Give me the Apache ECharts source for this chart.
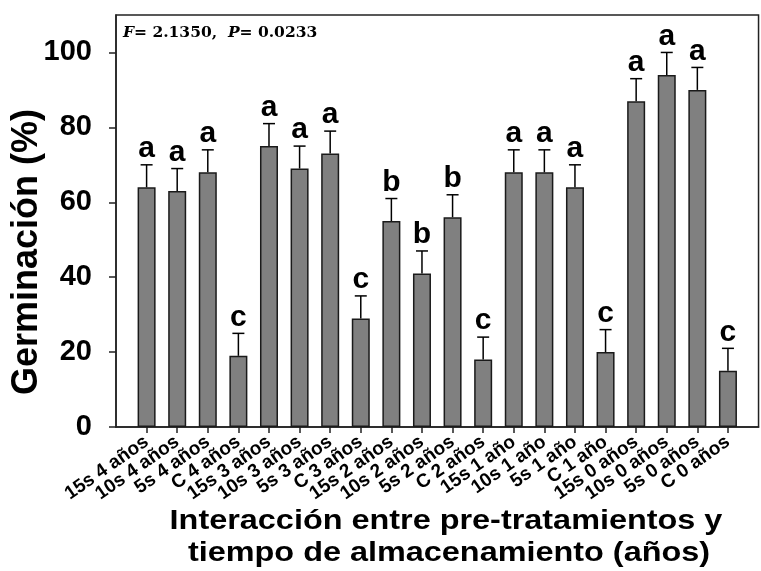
<!DOCTYPE html>
<html>
<head>
<meta charset="utf-8">
<script src="https://cdn.jsdelivr.net/npm/echarts@6/dist/echarts.min.js"></script>
<style>
  html, body { margin: 0; padding: 0; background: #fff; }
  #chart { width: 761px; height: 571px; }
</style>
</head>
<body>
<div id="chart"></div>
<script>
// datos
var categorias = ['15s 4 años', '10s 4 años', '5s 4 años', 'C 4 años',
    '15s 3 años', '10s 3 años', '5s 3 años', 'C 3 años',
    '15s 2 años', '10s 2 años', '5s 2 años', 'C 2 años',
    '15s 1 año', '10s 1 año', '5s 1 año', 'C 1 año',
    '15s 0 años', '10s 0 años', '5s 0 años', 'C 0 años'];
var germinacion = [64, 63, 68, 19, 75, 69, 73, 29, 55, 41, 56, 18, 68, 68, 64, 20, 87, 94, 90, 15];
var errores = [6, 6, 6, 6, 6, 6, 6, 6, 6, 6, 6, 6, 6, 6, 6, 6, 6, 6, 6, 6];
var letras = ['a', 'a', 'a', 'c', 'a', 'a', 'a', 'c', 'b', 'b', 'b', 'c', 'a', 'a', 'a', 'c', 'a', 'a', 'a', 'c'];
var yTicks = [0, 20, 40, 60, 80, 100];

var chart = echarts.init(document.getElementById('chart'));

// eje con un hueco vacio a cada lado
var ejeX = [''].concat(categorias).concat(['']);
var barras = ['-'].concat(germinacion).concat(['-']);
var barrasError = [];
for (var i = 0; i < germinacion.length; i++) {
    barrasError.push([i + 1, germinacion[i], errores[i]]);
}

var colorEje = '#222';

var option = {
    animation: false,
    grid: {
        left: 116,
        top: 15,
        width: 655,
        height: 412,
        show: true,
        borderColor: colorEje,
        borderWidth: 1.5
    },
    xAxis: {
        type: 'category',
        data: ejeX,
        boundaryGap: false,
        axisLine: { lineStyle: { color: colorEje, width: 1.5 } },
        axisTick: {
            length: 6,
            lineStyle: { color: colorEje, width: 1.5 },
            interval: function (idx) { return idx > 0 && idx <= categorias.length; }
        },
        axisLabel: {
            interval: 0,
            rotate: 35,
            margin: 13,
            color: '#000',
            fontFamily: 'Liberation Sans',
            fontWeight: 'bold',
            fontSize: 19
        },
        splitLine: { show: false }
    },
    yAxis: {
        type: 'value',
        min: 0,
        max: 110,
        axisLine: { show: true, lineStyle: { color: colorEje, width: 1.5 } },
        axisTick: {
            show: true,
            length: 7,
            customValues: yTicks,
            lineStyle: { color: colorEje, width: 1.5 }
        },
        axisLabel: {
            customValues: yTicks,
            margin: 24,
            color: '#000',
            fontFamily: 'Liberation Sans',
            fontWeight: 'bold',
            fontSize: 29
        },
        splitLine: { show: false }
    },
    series: [{
        type: 'bar',
        data: barras,
        barWidth: 18,
        itemStyle: {
            color: '#808080',
            borderColor: '#1a1a1a',
            borderWidth: 1.5
        }
    },
    {
        type: 'custom',
        data: barrasError,
        z: 5,
        renderItem: function (params, api) {
            var x = api.value(0);
            var m = api.value(1);
            var e = api.value(2);
            var base = api.coord([x, m]);
            var top = api.coord([x, m + e]);
            var hw = 6;
            var estilo = { stroke: '#000', lineWidth: 1.5 };
            return {
                type: 'group',
                children: [
                    { type: 'line', shape: { x1: top[0], y1: base[1], x2: top[0], y2: top[1] }, style: estilo },
                    { type: 'line', shape: { x1: top[0] - hw, y1: top[1], x2: top[0] + hw, y2: top[1] }, style: estilo },
                    {
                        type: 'text',
                        x: top[0],
                        y: top[1] - 1,
                        style: {
                            text: letras[params.dataIndex],
                            fill: '#000',
                            font: 'bold 30px "Liberation Sans"',
                            align: 'center', textAlign: 'center',
                            verticalAlign: 'bottom', textVerticalAlign: 'bottom'
                        }
                    }
                ]
            };
        }
    }],
    graphic: [{
        type: 'text',
        x: 123,
        y: 33,
        style: {
            text: '{i|F}{n|= 2.1350,  }{i|P}{n|= 0.0233}',
            verticalAlign: 'middle', textVerticalAlign: 'middle',
            rich: {
                i: { fontFamily: 'DejaVu Serif', fontStyle: 'italic', fontWeight: 'bold', fontSize: 15.5, fill: '#000', color: '#000' },
                n: { fontFamily: 'DejaVu Serif', fontWeight: 'bold', fontSize: 15.5, fill: '#000', color: '#000' }
            }
        }
    },
    {
        type: 'text',
        x: 27.5,
        y: 252,
        rotation: Math.PI / 2,
        style: {
            text: 'Germinación (%)',
            fill: '#000',
            font: 'bold 36px "Liberation Sans"',
            align: 'center', textAlign: 'center',
            verticalAlign: 'middle', textVerticalAlign: 'middle'
        }
    },
    {
        type: 'text',
        x: 446,
        y: 522,
        scaleX: 1.2,
        style: {
            text: 'Interacción entre pre-tratamientos y',
            fill: '#000',
            font: 'bold 27px "Liberation Sans"',
            align: 'center', textAlign: 'center',
            verticalAlign: 'middle', textVerticalAlign: 'middle'
        }
    },
    {
        type: 'text',
        x: 449,
        y: 554,
        scaleX: 1.2,
        style: {
            text: 'tiempo de almacenamiento (años)',
            fill: '#000',
            font: 'bold 27px "Liberation Sans"',
            align: 'center', textAlign: 'center',
            verticalAlign: 'middle', textVerticalAlign: 'middle'
        }
    }]
};

chart.setOption(option);
</script>
</body>
</html>
